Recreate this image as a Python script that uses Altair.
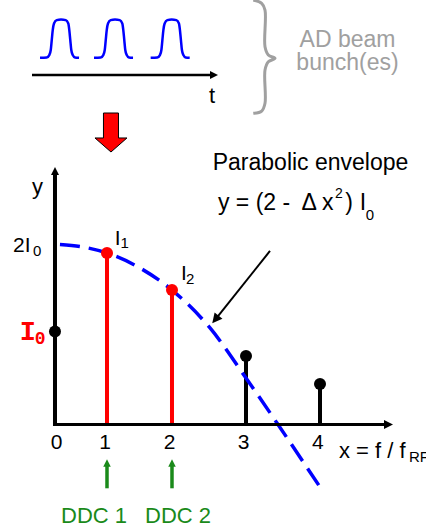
import altair as alt
import pandas as pd

# ---------------------------------------------------------------
# Spectrum of the bunched beam: x in units of f_RF, y in units of I0
# ---------------------------------------------------------------
harmonic = [0, 1, 2, 3, 4]
line_pos = [0.0, 0.785, 1.766, 2.883, 4.0]
line_amp = [1.0, 1.844, 1.446, 0.737, 0.435]
line_color = ["#000000", "#ff0000", "#ff0000", "#000000", "#000000"]

tick_labels = ["0", "1", "2", "3", "4"]
tick_pos = [0.023, 0.755, 1.731, 2.848, 3.967]

# parabolic envelope (dashed)
env_x = [0.075, 0.377, 0.785, 1.283, 1.766, 2.340, 2.883, 3.366, 4.000]
env_y = [1.935, 1.914, 1.844, 1.683, 1.446, 1.038, 0.500, 0.0, -0.672]

# bunches in the time domain sketch
bunch_center = [0.091, 0.906, 1.761]
bunch_base = 3.944
pulse_dx = [-0.317, -0.216, -0.177, -0.155, -0.140, -0.125, -0.106, -0.065, 0.0,
            0.071, 0.110, 0.125, 0.140, 0.155, 0.177, 0.211, 0.272]
pulse_h = [0.0, 0.003, 0.029, 0.083, 0.190, 0.298, 0.369, 0.405, 0.412,
           0.405, 0.369, 0.298, 0.190, 0.083, 0.029, 0.003, 0.0]

# digital down-converters placed on harmonics 1 and 2
ddc_labels = ["DDC 1", "DDC 2"]
ddc_pos = [0.785, 1.766]
ddc_label_pos = [0.589, 1.857]

# curly brace next to the bunch sketch
brace_x = [2.993, 3.120, 3.170, 3.170, 3.220, 3.321, 3.220, 3.170, 3.170, 3.120, 2.993]
brace_y = [4.565, 4.529, 4.457, 4.062, 3.973, 3.938, 3.901, 3.812, 3.454, 3.371, 3.346]

BLUE = "#0000ff"
RED = "#ff0000"
GREEN = "#1a8a1a"
GRAY = "#a0a0a0"
BLACK = "#000000"

X_DOMAIN = [-0.830, 5.600]
Y_DOMAIN = [-1.156, 4.565]

# arrow head with its tip at the anchor point, pointing right (rotated by angle)
HEAD = "M0,0L-2,-1L-2,1Z"
# block arrow pointing down
BLOCK = "M-0.385,-1L0.385,-1L0.385,0.28L0.82,0.28L0,1L-0.82,0.28L-0.385,0.28Z"


def xq(field):
    return alt.X(f"{field}:Q", scale=alt.Scale(domain=X_DOMAIN, nice=False, zero=False), axis=None)


def yq(field):
    return alt.Y(f"{field}:Q", scale=alt.Scale(domain=Y_DOMAIN, nice=False, zero=False), axis=None)


def texts(rows, align="left", font="Liberation Sans", weight="normal"):
    df = pd.DataFrame(rows, columns=["x", "y", "text", "size", "color"])
    return alt.Chart(df).mark_text(
        align=align, baseline="alphabetic", font=font, fontWeight=weight
    ).encode(
        x=xq("x"), y=yq("y"), text="text:N",
        size=alt.Size("size:Q", scale=None),
        color=alt.Color("color:N", scale=None),
    )


# ---- stems and their tips
stems_df = pd.DataFrame({"h": harmonic, "x": line_pos, "amp": line_amp,
                         "base": 0.0, "color": line_color})
stems = alt.Chart(stems_df).mark_rule(strokeWidth=4).encode(
    x=xq("x"), y=yq("base"), y2=alt.Y2("amp"),
    color=alt.Color("color:N", scale=None))
dots = alt.Chart(stems_df).mark_circle(size=144, opacity=1).encode(
    x=xq("x"), y=yq("amp"), color=alt.Color("color:N", scale=None))

# ---- envelope
env_df = pd.DataFrame({"x": env_x, "y": env_y})
envelope = alt.Chart(env_df).mark_line(
    color=BLUE, strokeWidth=3.5, strokeDash=[20, 9], interpolate="monotone"
).encode(x=xq("x"), y=yq("y"))

# ---- bunches
pulse_rows = []
for b, c in enumerate(bunch_center):
    for dx, h in zip(pulse_dx, pulse_h):
        pulse_rows.append({"bunch": b, "x": c + dx, "y": bunch_base + h})
pulses = alt.Chart(pd.DataFrame(pulse_rows)).mark_line(
    color=BLUE, strokeWidth=2.5, interpolate="monotone"
).encode(x=xq("x"), y=yq("y"), detail="bunch:N")

# ---- brace
brace_df = pd.DataFrame({"i": range(len(brace_x)), "x": brace_x, "y": brace_y})
brace = alt.Chart(brace_df).mark_line(
    color=GRAY, strokeWidth=3, interpolate="catmull-rom"
).encode(x=xq("x"), y=yq("y"), order="i:Q")

# ---- axes and arrow shafts
seg_rows = [
    # x, y, x2, y2, color, width
    (0.0, -0.016, 0.0, 2.70, BLACK, 4),          # y axis
    (-0.026, 0.0, 4.98, 0.0, BLACK, 3),          # x axis
    (-0.347, 3.758, 2.36, 3.758, BLACK, 2.5),    # time axis
    (3.245, 1.866, 2.449, 1.156, BLACK, 2),      # pointer to envelope
]
for p in ddc_pos:
    seg_rows.append((p, -0.686, p, -0.44, GREEN, 3.5))
seg_df = pd.DataFrame(seg_rows, columns=["x", "y", "x2", "y2", "color", "w"])
segments = alt.Chart(seg_df).mark_rule().encode(
    x=xq("x"), y=yq("y"), x2=alt.X2("x2"), y2=alt.Y2("y2"),
    color=alt.Color("color:N", scale=None),
    strokeWidth=alt.StrokeWidth("w:Q", scale=None))

head_rows = [
    # x, y, angle, size, color
    (0.0, 2.769, 270, 64, BLACK),
    (5.102, 0.0, 0, 81, BLACK),
    (2.460, 3.758, 0, 64, BLACK),
    (2.374, 1.088, 128.6, 100, BLACK),
]
for p in ddc_pos:
    head_rows.append((p, -0.374, 270, 56, GREEN))
head_df = pd.DataFrame(head_rows, columns=["x", "y", "angle", "size", "color"])
heads = alt.Chart(head_df).mark_point(
    shape=HEAD, filled=True, opacity=1, strokeWidth=0
).encode(
    x=xq("x"), y=yq("y"),
    angle=alt.Angle("angle:Q", scale=None),
    size=alt.Size("size:Q", scale=None),
    color=alt.Color("color:N", scale=None))

block_df = pd.DataFrame({"x": [0.845], "y": [3.140]})
block = alt.Chart(block_df).mark_point(
    shape=BLOCK, filled=True, fill=RED, stroke=BLACK, strokeWidth=1,
    size=1521, opacity=1
).encode(x=xq("x"), y=yq("y"))

# ---- text
left_text = texts([
    (-0.634, 1.855, "2I", 21, BLACK),
    (-0.332, 1.817, "0", 15, BLACK),
    (0.901, 1.930, "I", 21, BLACK),
    (0.989, 1.898, "1", 15, BLACK),
    (1.902, 1.559, "I", 21, BLACK),
    (1.977, 1.516, "2", 15, BLACK),
    (2.460, 2.310, "y = (2 -", 23, BLACK),
    (3.720, 2.310, "Δ x", 23, BLACK),
    (4.225, 2.435, "2", 14, BLACK),
    (4.380, 2.310, ")", 23, BLACK),
    (4.600, 2.310, "I", 23, BLACK),
    (4.690, 2.202, "0", 15, BLACK),
    (4.287, -0.355, "x = f / f", 22, BLACK),
    (5.343, -0.398, "RF", 15, BLACK),
])

center_rows = [
    (-0.264, 2.474, "y", 22, BLACK),
    (2.370, 3.457, "t", 22, BLACK),
    (4.415, 4.059, "AD beam", 23, GRAY),
    (4.415, 3.812, "bunch(es)", 23, GRAY),
    (3.857, 2.740, "Parabolic envelope", 23, BLACK),
]
for lab, p in zip(tick_labels, tick_pos):
    center_rows.append((p, -0.263, lab, 21, BLACK))
for lab, p in zip(ddc_labels, ddc_label_pos):
    center_rows.append((p, -1.062, lab, 22, GREEN))
center_text = texts(center_rows, align="center")

i0_text = texts([
    (-0.410, 0.909, "I", 27, RED),
    (-0.222, 0.871, "0", 18, RED),
], align="center", font="Liberation Mono", weight="bold")

chart = alt.layer(
    pulses, brace, block,
    stems, envelope, dots,
    segments, heads,
    left_text, center_text, i0_text,
).properties(
    width=426, height=532, padding=0,
    autosize=alt.AutoSizeParams(type="none"),
).configure_view(stroke=None)

chart.save("out.html", embed_options={"renderer": "svg", "actions": False})
